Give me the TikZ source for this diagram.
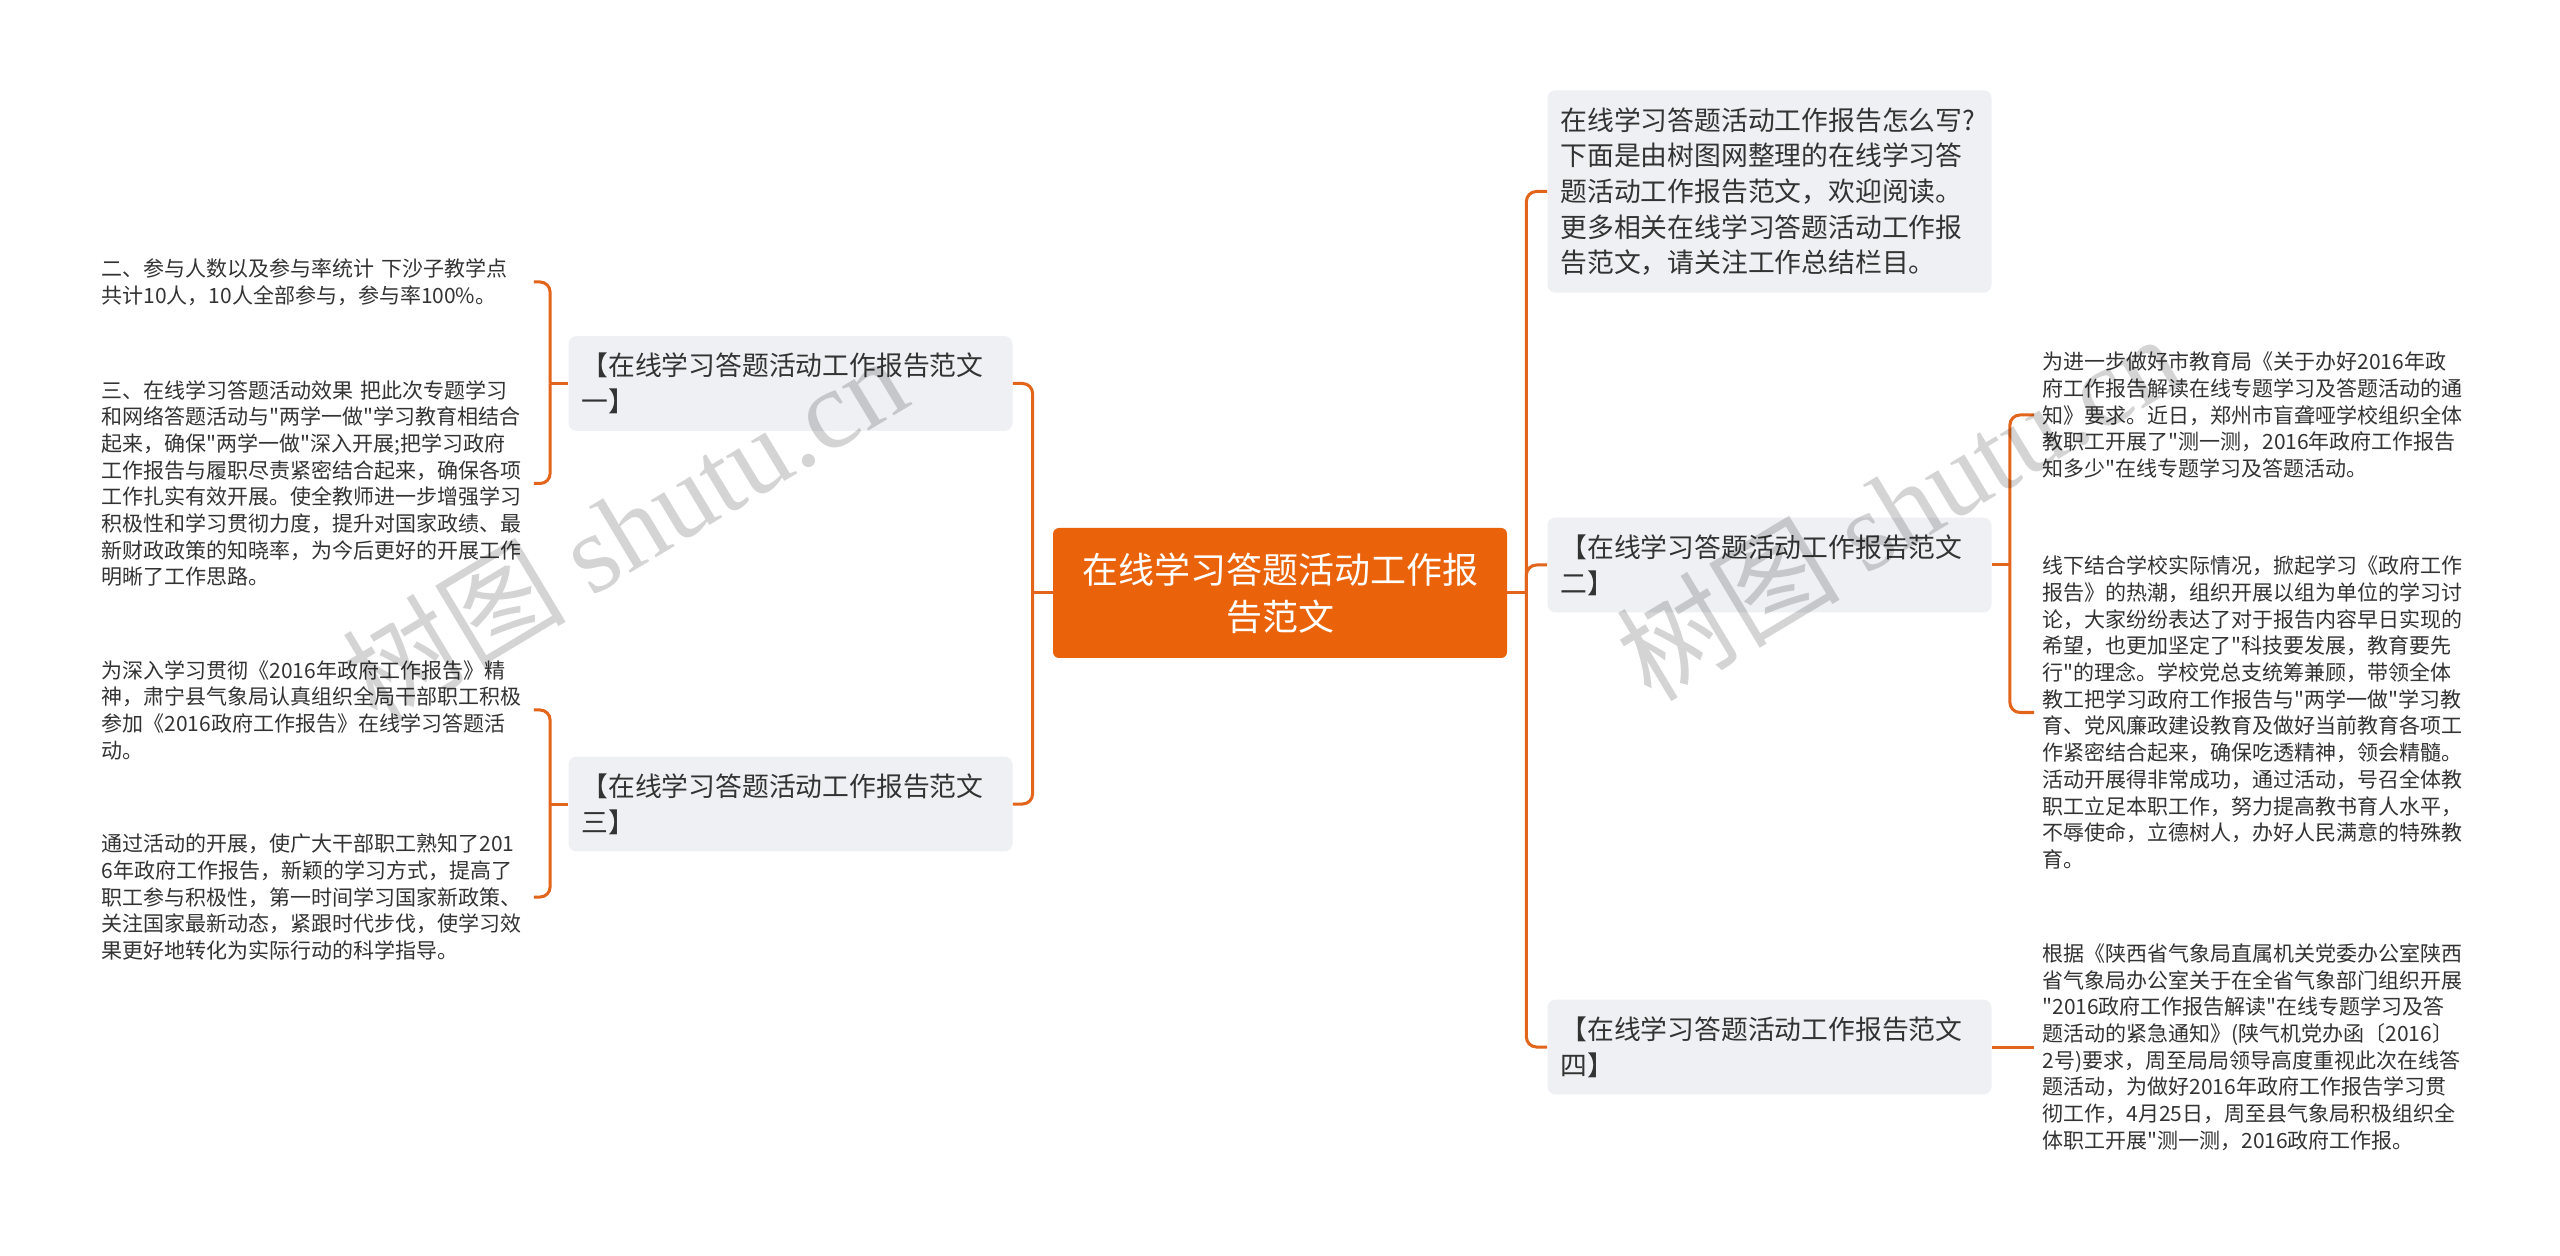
\documentclass[tikz,border=0pt]{standalone}
\usepackage{fontspec}
\setmainfont{Noto Sans CJK SC}[Ligatures=TeXOff]
\newfontfamily\wmfont{Liberation Serif}
\usepackage{tikz}
\usetikzlibrary{positioning,calc}
\definecolor{mmorange}{HTML}{EA620A}
\definecolor{mmline}{HTML}{E2651B}
\definecolor{mmbox}{HTML}{EEF0F3}
\definecolor{mmtext}{HTML}{333333}

\begin{document}
\begin{tikzpicture}[
  x=0.5pt, y=-0.5pt,
  root/.style={fill=mmorange, rounded corners=3pt, text=white, align=center,
    minimum width=227pt, minimum height=65pt, inner sep=0pt,
    font=\fontsize{18pt}{23.5pt}\selectfont},
  topic/.style={fill=mmbox, rounded corners=4pt, text=mmtext, align=left,
    text width=209pt, inner xsep=6.5pt, inner ysep=8.5pt,
    font=\fontsize{13.4pt}{17.85pt}\selectfont},
  leaf/.style={text=mmtext, align=left, text width=212pt, inner xsep=4pt,
    inner ysep=3pt, font=\fontsize{10.5pt}{13.35pt}\selectfont},
  link/.style={draw=mmline, line width=1.5pt, rounded corners=5pt},
  wmark/.style={text=black, opacity=0.17, rotate=31,
    font=\fontsize{56pt}{56pt}\selectfont}
]
  \useasboundingbox (0,0) rectangle (2560,1256);
  \fill[white] (0,0) rectangle (2560,1256);
  % centre
  \node[root] (root) at (1280,593) {在线学习答题活动工作报\\告范文};
  % right side
  \node[topic] (intro) at (1769.5,191.5) {在线学习答题活动工作报告怎么写?\\下面是由树图网整理的在线学习答\\题活动工作报告范文，欢迎阅读。\\更多相关在线学习答题活动工作报\\告范文，请关注工作总结栏目。};
  \node[topic] (box2) at (1769.5,565) {【在线学习答题活动工作报告范文\\二】};
  \node[topic] (box4) at (1769.5,1047) {【在线学习答题活动工作报告范文\\四】};
  % left side
  \node[topic] (box1) at (790.5,383.5) {【在线学习答题活动工作报告范文\\一】};
  \node[topic] (box3) at (790.5,804) {【在线学习答题活动工作报告范文\\三】};
  % leaves
  \node[leaf, anchor=west] (l1a) at (93,282) {二、参与人数以及参与率统计 下沙子教学点\\共计10人，10人全部参与，参与率100\%。};
  \node[leaf, anchor=west] (l1b) at (93,483.5) {三、在线学习答题活动效果 把此次专题学习\\和网络答题活动与"两学一做"学习教育相结合\\起来，确保"两学一做"深入开展;把学习政府\\工作报告与履职尽责紧密结合起来，确保各项\\工作扎实有效开展。使全教师进一步增强学习\\积极性和学习贯彻力度，提升对国家政绩、最\\新财政政策的知晓率，为今后更好的开展工作\\明晰了工作思路。};
  \node[leaf, anchor=west] (l3a) at (93,710) {为深入学习贯彻《2016年政府工作报告》精\\神，肃宁县气象局认真组织全局干部职工积极\\参加《2016政府工作报告》在线学习答题活\\动。};
  \node[leaf, anchor=west] (l3b) at (93,897) {通过活动的开展，使广大干部职工熟知了201\\6年政府工作报告，新颖的学习方式，提高了\\职工参与积极性，第一时间学习国家新政策、\\关注国家最新动态，紧跟时代步伐，使学习效\\果更好地转化为实际行动的科学指导。};
  \node[leaf, anchor=west] (r2a) at (2034,415) {为进一步做好市教育局《关于办好2016年政\\府工作报告解读在线专题学习及答题活动的通\\知》要求。近日，郑州市盲聋哑学校组织全体\\教职工开展了"测一测，2016年政府工作报告\\知多少"在线专题学习及答题活动。};
  \node[leaf, anchor=west] (r2b) at (2034,712.5) {线下结合学校实际情况，掀起学习《政府工作\\报告》的热潮，组织开展以组为单位的学习讨\\论，大家纷纷表达了对于报告内容早日实现的\\希望，也更加坚定了"科技要发展，教育要先\\行"的理念。学校党总支统筹兼顾，带领全体\\教工把学习政府工作报告与"两学一做"学习教\\育、党风廉政建设教育及做好当前教育各项工\\作紧密结合起来，确保吃透精神，领会精髓。\\活动开展得非常成功，通过活动，号召全体教\\职工立足本职工作，努力提高教书育人水平，\\不辱使命，立德树人，办好人民满意的特殊教\\育。};
  \node[leaf, anchor=west] (r4a) at (2034,1047) {根据《陕西省气象局直属机关党委办公室陕西\\省气象局办公室关于在全省气象部门组织开展\\{}"2016政府工作报告解读"在线专题学习及答\\题活动的紧急通知》(陕气机党办函〔2016〕\\2号)要求，周至局局领导高度重视此次在线答\\题活动，为做好2016年政府工作报告学习贯\\彻工作，4月25日，周至县气象局积极组织全\\体职工开展"测一测，2016政府工作报。};
  % connectors
  \draw[link] (root.east) -- ([xshift=9.5pt]root.east);
  \foreach \n in {intro,box2,box4}
    \draw[link] ([xshift=9.5pt]root.east) |- (\n.west);
  \draw[link] (root.west) -- ([xshift=-10pt]root.west);
  \foreach \n in {box1,box3}
    \draw[link] ([xshift=-10pt]root.west) |- (\n.east);
  \draw[link] (box1.west) -- ([xshift=-9pt]box1.west);
  \foreach \n in {l1a,l1b}
    \draw[link] ([xshift=-9pt]box1.west) |- (\n.east);
  \draw[link] (box3.west) -- ([xshift=-9pt]box3.west);
  \foreach \n in {l3a,l3b}
    \draw[link] ([xshift=-9pt]box3.west) |- (\n.east);
  \draw[link] (box2.east) -- ([xshift=9pt]box2.east);
  \foreach \n in {r2a,r2b}
    \draw[link] ([xshift=9pt]box2.east) |- (\n.west);
  \draw[link] (box4.east) -- (r4a.west);
  % watermark
  \node[wmark] (wm1) at (624,528) {树图 {\wmfont shutu.cn}};
  \node[wmark] (wm2) at (1898,506) {树图 {\wmfont shutu.cn}};
\end{tikzpicture}
\end{document}
